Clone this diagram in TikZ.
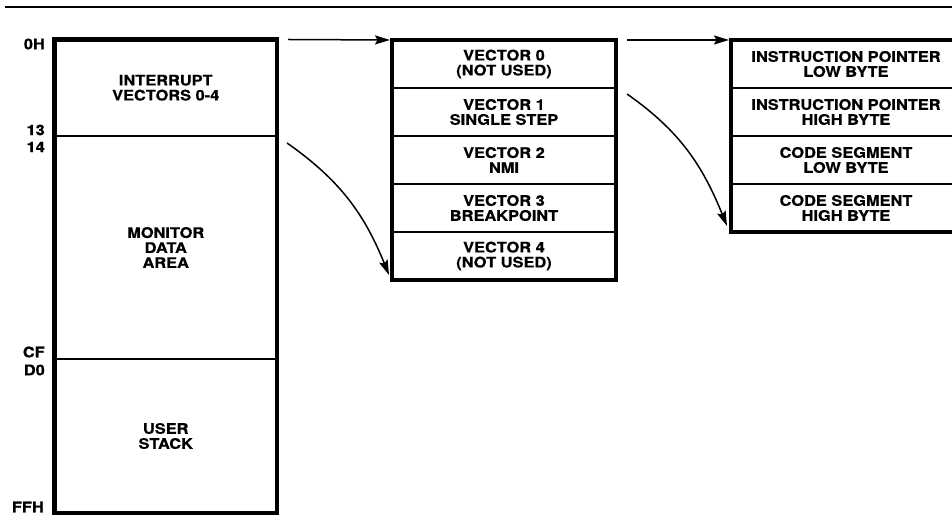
\documentclass[tikz,border=0pt]{standalone}
\usepackage{fontspec}
\newfontfamily\heros[FakeStretch=1.13, FakeBold=0.6]{TeX Gyre Heros}
\usepackage{tikz}
\usetikzlibrary{arrows.meta, positioning}

\begin{document}
\begin{tikzpicture}[
    x=1pt, y=1pt,
    cell/.style={draw, line width=1.3pt, outer sep=0pt, inner sep=0pt,
      align=center, font=\heros\bfseries\fontsize{14.5}{15}\selectfont},
    frame/.style={line width=4.5pt},
    addr/.style={anchor=east, inner sep=0pt,
      font=\heros\bfseries\fontsize{14.5}{15}\selectfont},
    arr/.style={-{Stealth[length=15pt, width=9pt, inset=2.5pt]}, line width=1.5pt}
  ]
  \useasboundingbox (0,0) rectangle (952,516);

  % Rule
  \draw[line width=2pt] (5,509) -- (960,509);

  % Monitor RAM
  \node[cell, minimum width=222.5, minimum height=96.5, anchor=north west]
    (ivt) at (54.5,476.5) {INTERRUPT\\VECTORS 0-4};
  \node[cell, minimum width=222.5, minimum height=223, below=0pt of ivt]
    (mda) {MONITOR\\DATA\\AREA};
  \node[cell, minimum width=222.5, minimum height=154, below=0pt of mda]
    (ustk) {USER\\STACK};
  \draw[frame] (ivt.north west) rectangle (ustk.south east);

  % Addresses
  \node[addr] (a0h) at (45,472) {0H};
  \node[addr] (a13) at (45,386) {13};
  \node[addr] (a14) at (45,369) {14};
  \node[addr] (acf) at (45,164) {CF};
  \node[addr] (ad0) at (45,146) {D0};
  \node[addr] (affh) at (44,9) {FFH};

  % Vector table
  \foreach \i/\t in {0/{VECTOR 0\\(NOT USED)}, 1/{VECTOR 1\\SINGLE STEP},
      2/{VECTOR 2\\NMI}, 3/{VECTOR 3\\BREAKPOINT}, 4/{VECTOR 4\\(NOT USED)}}{
    \node[cell, minimum width=224, minimum height=48] (v\i) at (504, 452 - \i*48) {\t};
  }
  \draw[frame] (v0.north west) rectangle (v4.south east);

  % Vector contents
  \foreach \i/\t in {0/{INSTRUCTION POINTER\\LOW BYTE}, 1/{INSTRUCTION POINTER\\HIGH BYTE},
      2/{CODE SEGMENT\\LOW BYTE}, 3/{CODE SEGMENT\\HIGH BYTE}}{
    \node[cell, minimum width=230, minimum height=48] (w\i) at (846, 452 - \i*48) {\t};
  }
  \draw[frame] (w0.north west) rectangle (w3.south east);

  % Connections
  \draw[arr] ([xshift=11pt]ivt.north east) -- ([xshift=-2pt]v0.north west);
  \draw[arr] ([xshift=10pt, yshift=-7pt]mda.north east) to[out=-35, in=112]
    ([xshift=-3pt, yshift=5pt]v4.south west);
  \draw[arr] ([xshift=11pt]v0.north east) -- ([xshift=-2pt]w0.north west);
  \draw[arr] ([xshift=11pt, yshift=-6pt]v1.north east) to[out=-35, in=112]
    ([xshift=-4pt, yshift=6pt]w3.south west);
\end{tikzpicture}
\end{document}
